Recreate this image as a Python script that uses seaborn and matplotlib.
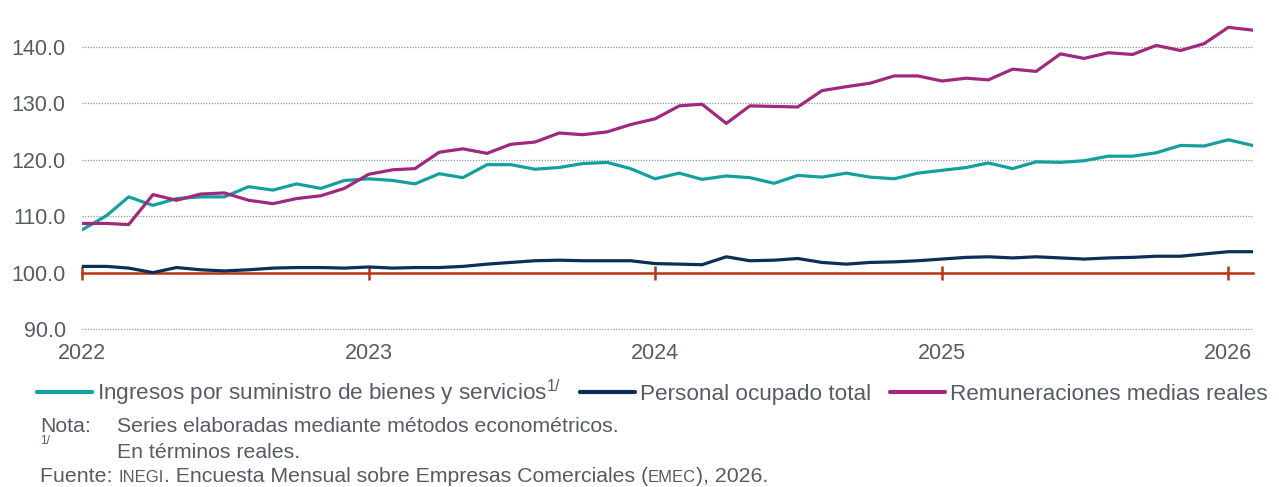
import pandas as pd
import numpy as np
import seaborn as sns
import matplotlib.pyplot as plt
import matplotlib.dates as mdates


fechas = pd.date_range("2022-01-01", periods=50, freq="MS")

ingresos = [107.6, 110.1, 113.4, 111.9, 113.1, 113.4, 113.4, 115.2, 114.6, 115.7, 114.9, 116.3,
            116.6, 116.3, 115.7, 117.5, 116.8, 119.1, 119.1, 118.3, 118.6, 119.3, 119.5, 118.4,
            116.6, 117.6, 116.5, 117.1, 116.8, 115.8, 117.2, 116.9, 117.6, 116.9, 116.6, 117.6,
            118.1, 118.6, 119.4, 118.4, 119.6, 119.5, 119.8, 120.6, 120.6, 121.2, 122.5, 122.4,
            123.5, 122.5]
personal = [101.1, 101.1, 100.8, 100.0, 100.9, 100.5, 100.3, 100.5, 100.8, 100.9, 100.9, 100.8,
            101.0, 100.8, 100.9, 100.9, 101.1, 101.5, 101.8, 102.1, 102.2, 102.1, 102.1, 102.1,
            101.6, 101.5, 101.4, 102.8, 102.1, 102.2, 102.5, 101.8, 101.5, 101.8, 101.9, 102.1,
            102.4, 102.7, 102.8, 102.6, 102.8, 102.6, 102.4, 102.6, 102.7, 102.9, 102.9, 103.3,
            103.7, 103.7]
remuneraciones = [108.7, 108.7, 108.5, 113.8, 112.8, 113.9, 114.1, 112.8, 112.2, 113.1, 113.6, 114.9,
                  117.4, 118.2, 118.4, 121.3, 121.9, 121.1, 122.7, 123.1, 124.7, 124.4, 124.9, 126.2,
                  127.2, 129.5, 129.8, 126.4, 129.5, 129.4, 129.3, 132.2, 132.9, 133.5, 134.8, 134.8,
                  133.9, 134.4, 134.1, 136.0, 135.6, 138.7, 137.9, 138.9, 138.6, 140.2, 139.3, 140.5,
                  143.4, 142.9]

series = ["Ingresos por suministro de bienes y servicios$^{1/}$",
          "Personal ocupado total",
          "Remuneraciones medias reales"]
colores = ["#14A09F", "#0B2F56", "#A0297F"]

df = pd.DataFrame({
    "fecha": list(fechas) * 3,
    "valor": ingresos + personal + remuneraciones,
    "serie": [s for s in series for _ in range(len(fechas))],
})

sns.set_style("white")
plt.rcParams["font.family"] = ["Liberation Sans", "DejaVu Sans"]
plt.rcParams["mathtext.fontset"] = "custom"
plt.rcParams["mathtext.rm"] = "Liberation Sans"
gris = "#565C64"
rojo = "#B83413"

fig = plt.figure(figsize=(12.79, 4.87), dpi=100)
ax = fig.add_axes([0.0644, 0.3224, 0.915, 0.6749])

sns.lineplot(data=df, x="fecha", y="valor", hue="serie", palette=colores,
             linewidth=2.3, ax=ax, legend=True)

ax.set_xlim(fechas[0], fechas[-1])
ax.set_ylim(89.85, 148)
ax.set_yticks(np.arange(90, 141, 10))
ax.yaxis.set_major_formatter(plt.FuncFormatter(lambda v, p: f"{v:.1f}"))
ax.xaxis.set_major_locator(mdates.YearLocator())
ax.xaxis.set_major_formatter(mdates.DateFormatter("%Y"))
ax.set_xlabel("")
ax.set_ylabel("")

ax.grid(axis="y", color="#8D9CAB", linestyle=(0, (1, 1.2)), linewidth=0.9)
ax.grid(axis="x", visible=False)
for s in ["left", "right", "top"]:
    ax.spines[s].set_visible(False)
ax.spines["bottom"].set_position(("data", 100))
ax.spines["bottom"].set_color(rojo)
ax.spines["bottom"].set_linewidth(1.8)
ax.spines["bottom"].set_zorder(1.5)
ax.tick_params(axis="x", bottom=True, direction="inout", length=10, width=1.8, color=rojo,
               pad=46, labelsize=15.5, labelcolor=gris)
ax.tick_params(axis="y", left=False, length=0, pad=12, labelsize=15.5, labelcolor=gris)

handles, labels = ax.get_legend_handles_labels()
ax.get_legend().remove()
for h in handles:
    h.set_linewidth(3)
fig.legend(handles, labels, loc="center left", bbox_to_anchor=(0.029, 0.193),
           ncol=3, frameon=False, fontsize=16.2, labelcolor=gris,
           handlelength=2.45, handletextpad=0.2, columnspacing=0.85,
           borderaxespad=0, borderpad=0)

W, H = 1279, 487
fs = 15.3
fig.text(40 / W, 1 - 432 / H, "Nota:", fontsize=fs, color=gris, va="baseline")
fig.text(117 / W, 1 - 432 / H, "Series elaboradas mediante métodos econométricos.",
         fontsize=fs, color=gris, va="baseline")
fig.text(40 / W, 1 - 444 / H, "1/", fontsize=8.5, color=gris, va="baseline")
fig.text(117 / W, 1 - 458 / H, "En términos reales.", fontsize=fs, color=gris, va="baseline")

r = fig.canvas.get_renderer()
x = 40 / W
for txt, size in [("Fuente: ", fs), ("INEGI", 12),
                  (". Encuesta Mensual sobre Empresas Comerciales (", fs),
                  ("EMEC", 12), ("), 2026.", fs)]:
    t = fig.text(x, 1 - 481.5 / H, txt, fontsize=size, color=gris, va="baseline")
    bb = t.get_window_extent(renderer=r)
    x = fig.transFigure.inverted().transform((bb.x1, bb.y0))[0]

fig.savefig("out.png", dpi=100)
plt.close()
